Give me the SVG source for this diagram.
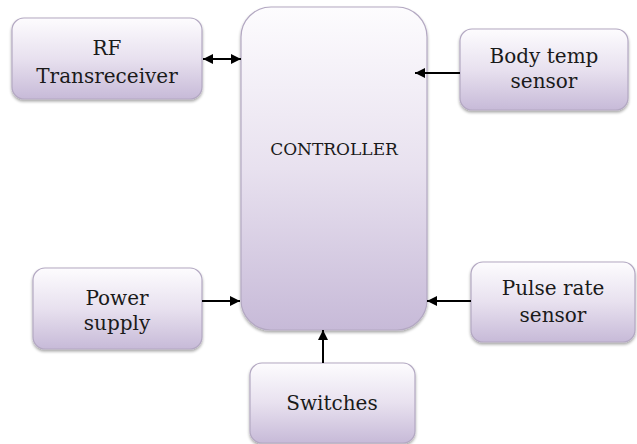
<svg xmlns="http://www.w3.org/2000/svg" width="637" height="444" viewBox="0 0 637 444">
<defs>
<linearGradient id="g" x1="0" y1="0" x2="0" y2="1">
<stop offset="0" stop-color="#fdfcfe"/>
<stop offset="0.5" stop-color="#e8e1ef"/>
<stop offset="1" stop-color="#c7bad8"/>
</linearGradient>
<filter id="sh" x="-10%" y="-10%" width="120%" height="130%">
<feGaussianBlur in="SourceAlpha" stdDeviation="1.5"/>
<feOffset dx="0" dy="2" result="b"/>
<feComponentTransfer><feFuncA type="linear" slope="0.35"/></feComponentTransfer>
<feMerge><feMergeNode/><feMergeNode in="SourceGraphic"/></feMerge>
</filter>
<marker id="ah" viewBox="0 0 10 10" refX="10" refY="5" markerWidth="10" markerHeight="10" markerUnits="userSpaceOnUse" orient="auto-start-reverse">
<path d="M0,0 L10,5 L0,10 z" fill="#000"/>
</marker>
</defs>
<style>
.box{fill:url(#g);stroke:#b3a8c2;stroke-width:1.2;filter:url(#sh)}
.t{font-family:'DejaVu Serif',serif;font-size:20px;fill:#1a1a1a;text-anchor:middle}
.c{stroke:#000;stroke-width:2;fill:none;marker-end:url(#ah)}
</style>
<rect width="637" height="444" fill="#fff"/>
<g id="controller">
<rect class="box" x="241" y="7" width="186" height="323" rx="30"/>
<text class="t" x="334" y="155" style="font-size:17px">CONTROLLER</text>
</g>
<g id="rf">
<rect class="box" x="12" y="18" width="190" height="81" rx="12"/>
<text class="t" x="107" y="55">RF</text>
<text class="t" x="107" y="83">Transreceiver</text>
</g>
<g id="bodytemp">
<rect class="box" x="460" y="29" width="168" height="81" rx="12"/>
<text class="t" x="544" y="63">Body temp</text>
<text class="t" x="544" y="88">sensor</text>
</g>
<g id="power">
<rect class="box" x="33" y="268" width="169" height="81" rx="12"/>
<text class="t" x="117" y="305">Power</text>
<text class="t" x="117" y="330">supply</text>
</g>
<g id="pulse">
<rect class="box" x="471" y="262" width="164" height="80" rx="12"/>
<text class="t" x="553" y="295">Pulse rate</text>
<text class="t" x="553" y="322">sensor</text>
</g>
<g id="switches">
<rect class="box" x="250" y="363" width="165" height="80" rx="12"/>
<text class="t" x="332" y="410">Switches</text>
</g>
<g id="connectors">
<line class="c" x1="203" y1="59" x2="241" y2="59" style="marker-start:url(#ah)"/>
<line class="c" x1="460" y1="73" x2="415" y2="73"/>
<line class="c" x1="202" y1="301" x2="240" y2="301"/>
<line class="c" x1="471" y1="301" x2="427" y2="301"/>
<line class="c" x1="323" y1="363" x2="323" y2="330"/>
</g>
</svg>
